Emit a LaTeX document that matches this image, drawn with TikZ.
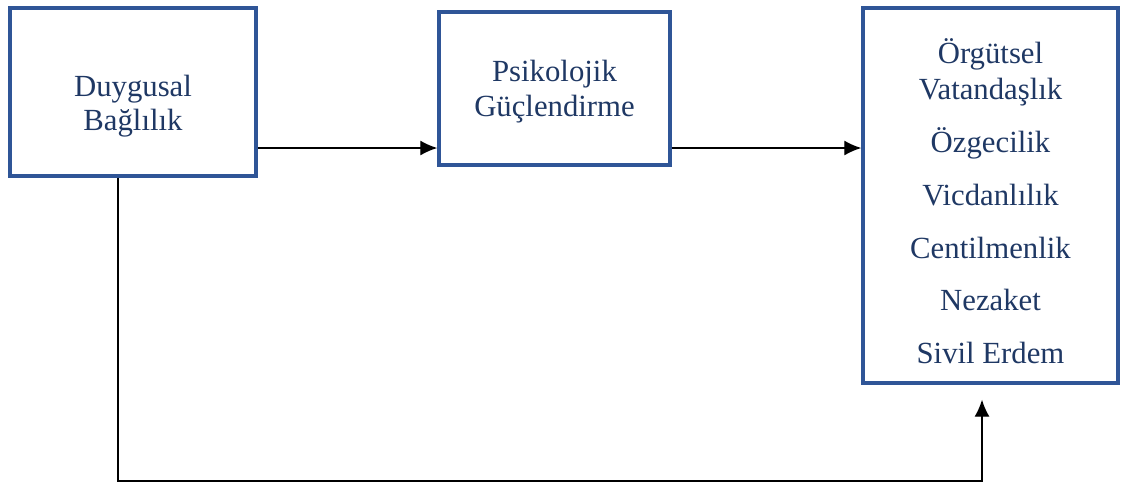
\documentclass[tikz,border=0pt]{standalone}
\usepackage{fontspec}
\setmainfont{Liberation Serif}
\usepackage{tikz}
\usetikzlibrary{arrows.meta}
\usetikzlibrary{calc}

\definecolor{cerceve}{HTML}{2F5597}
\definecolor{yazi}{HTML}{1F3864}

\tikzset{
  kutu/.style={draw=cerceve,line width=2pt,inner sep=0pt},
  metin/.style={text=yazi,align=center,inner sep=0pt},
  ok/.style={-{Latex[length=0.34cm,width=0.3cm]},line width=0.75pt}
}

\begin{document}
\begin{tikzpicture}[x=0.02cm,y=-0.02cm]
\useasboundingbox (0,0) rectangle (1123,484);
\node[kutu,minimum width=4.92cm,minimum height=3.36cm] (duygusal) at (133,92) {};
\node[kutu,minimum width=4.62cm,minimum height=3.06cm] (guclendirme) at (554.5,88.5) {};
\node[kutu,minimum width=5.1cm,minimum height=7.5cm] (ocb) at (990.5,195.5) {};
\node[metin,font=\fontsize{17.5}{19}\selectfont] (t1) at (133,106) {Duygusal\\Bağlılık};
\node[metin,font=\fontsize{17.5}{20}\selectfont] (t2) at (554.5,92) {Psikolojik\\Güçlendirme};
\node[metin,font=\fontsize{17.5}{21}\selectfont] (t3) at (990.5,201) {Örgütsel\\Vatandaşlık\\[9pt]Özgecilik\\[9pt]Vicdanlılık\\[9pt]Centilmenlik\\[9pt]Nezaket\\[9pt]Sivil Erdem};
\coordinate (ust) at (0,148);
\coordinate (sol) at (118,481);
\coordinate (sag) at (982,481);
\draw[ok] (duygusal.east |- ust) -- (guclendirme.west |- ust);
\draw[ok] (guclendirme.east |- ust) -- (ocb.west |- ust);
\draw[ok,shorten >=0.3cm] (duygusal.south -| sol) -- (sol) -- (sag) -- (ocb.south -| sag);
\end{tikzpicture}
\end{document}
